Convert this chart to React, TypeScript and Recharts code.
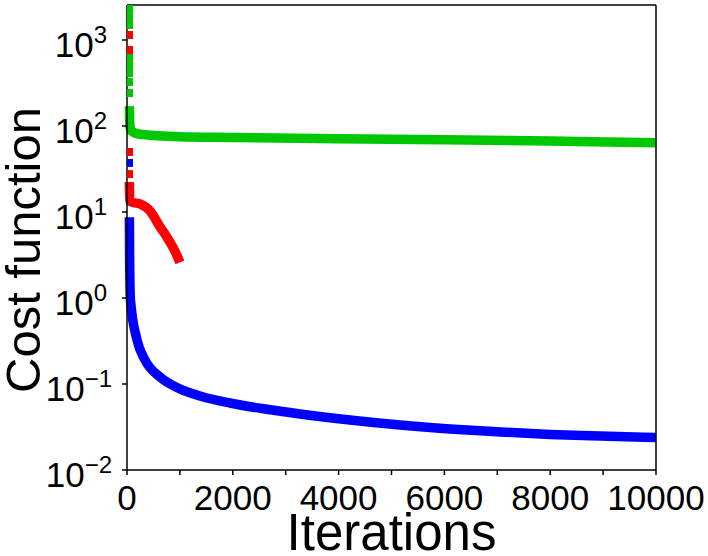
import {
	ComposedChart,
	Line,
	Scatter,
	XAxis,
	YAxis,
} from "recharts";

// iterations on x, cost on y (log)
const greenCurve = [
	{ it: 45, v: 170 },
	{ it: 55, v: 100 },
	{ it: 80, v: 88 },
	{ it: 250, v: 80 },
	{ it: 1000, v: 75 },
	{ it: 2000, v: 73.5 },
	{ it: 4000, v: 71 },
	{ it: 6000, v: 69.4 },
	{ it: 8000, v: 66.8 },
	{ it: 10000, v: 64 },
];
const greenEarly = [
	{ it: 57, v: 2292 },
	{ it: 57, v: 1849 },
	{ it: 57, v: 1493 },
	{ it: 57, v: 634 },
	{ it: 57, v: 512 },
	{ it: 57, v: 413 },
	{ it: 57, v: 325 },
	{ it: 57, v: 242 },
];
const blueCurve = [
	{ it: 45, v: 8.7 },
	{ it: 50, v: 2.8 },
	{ it: 65, v: 0.95 },
	{ it: 190, v: 0.325 },
	{ it: 340, v: 0.19 },
	{ it: 624, v: 0.1205 },
	{ it: 1002, v: 0.0875 },
	{ it: 1380, v: 0.0725 },
	{ it: 1947, v: 0.0601 },
	{ it: 2609, v: 0.0512 },
	{ it: 3270, v: 0.0448 },
	{ it: 4216, v: 0.0381 },
	{ it: 5161, v: 0.0333 },
	{ it: 6106, v: 0.03 },
	{ it: 7051, v: 0.0277 },
	{ it: 7996, v: 0.0259 },
	{ it: 8941, v: 0.0248 },
	{ it: 10000, v: 0.0239 },
];
const blueEarly = [{ it: 57, v: 37.2 }];
const redCurve = [
	{ it: 45, v: 22.3 },
	{ it: 50, v: 13.6 },
	{ it: 100, v: 13.0 },
	{ it: 246, v: 12.4 },
	{ it: 435, v: 10.3 },
	{ it: 624, v: 6.7 },
	{ it: 756, v: 5.1 },
	{ it: 907, v: 3.5 },
	{ it: 1000, v: 2.6 },
];
const redEarly = [
	{ it: 57, v: 1143 },
	{ it: 57, v: 765 },
	{ it: 57, v: 49.9 },
	{ it: 57, v: 27.6 },
];

const xTicks = [0, 1000, 2000, 3000, 4000, 5000, 6000, 7000, 8000, 9000, 10000];
const yTicks = [0.01, 0.1, 1, 10, 100, 1000];
const yDomain = [0.01, 2553];

const FONT = "'Liberation Sans', Arial, Helvetica, sans-serif";
const GREEN = "#00c800";
const BLUE = "#0000ff";
const RED = "#ff0000";
const LW = 9.5;

const XTick = ({ x, y, payload }: any) => {
	if (payload.value % 2000 !== 0) return <g />;
	return (
		<text x={x} y={y + 33} textAnchor="middle" fontSize={35} fontFamily={FONT} fill="#000">
			{payload.value}
		</text>
	);
};

const YTick = ({ x, y, payload }: any) => {
	const exp = Math.round(Math.log10(payload.value));
	const sup = exp < 0 ? "\u2212" + -exp : String(exp);
	return (
		<text
			x={exp < 0 ? x - 8 : x - 13}
			y={y + 17}
			textAnchor="end"
			fontSize={35}
			fontFamily={FONT}
			fill="#000"
		>
			10
			<tspan fontSize={24} dy={-14}>
				{sup}
			</tspan>
		</text>
	);
};

const marker = (color: string) => (props: any) =>
	<rect x={props.cx - 3} y={props.cy - 4} width={6} height={8} fill={color} />;

const App = () => {
	return (
		<div style={{ position: "absolute", left: 0, top: 0, background: "#fff" }}>
			<ComposedChart
				width={708}
				height={556}
				margin={{ top: 4, right: 51, left: 0, bottom: 0 }}
			>
				<XAxis
					xAxisId="bottom"
					dataKey="it"
					type="number"
					domain={[0, 10000]}
					ticks={xTicks}
					height={86}
					tick={<XTick />}
					tickSize={5}
					stroke="#000"
					strokeWidth={1.5}
					interval={0}
					label={{
						content: ({ viewBox }: any) => (
							<text
								x={viewBox.x + viewBox.width / 2}
								y={viewBox.y + 80}
								textAnchor="middle"
								fontSize={51}
								fontFamily={FONT}
								fill="#000"
							>
								Iterations
							</text>
						),
					}}
				/>
				<XAxis
					xAxisId="top"
					orientation="top"
					dataKey="it"
					type="number"
					domain={[0, 10000]}
					ticks={xTicks}
					height={1}
					tick={false}
					tickSize={5}
					stroke="#000"
					strokeWidth={1.5}
					interval={0}
				/>
				<YAxis
					yAxisId="left"
					type="number"
					scale="log"
					domain={yDomain}
					allowDataOverflow
					ticks={yTicks}
					width={127}
					tick={<YTick />}
					tickSize={5}
					stroke="#000"
					strokeWidth={1.5}
					interval={0}
					label={{
						content: ({ viewBox }: any) => (
							<text
								x={40}
								y={viewBox.y + 245}
								transform={`rotate(-90, 40, ${viewBox.y + 245})`}
								textAnchor="middle"
								fontSize={49}
								fontFamily={FONT}
								fill="#000"
							>
								Cost function
							</text>
						),
					}}
				/>
				<YAxis
					yAxisId="right"
					orientation="right"
					type="number"
					scale="log"
					domain={yDomain}
					allowDataOverflow
					ticks={yTicks}
					width={1}
					tick={false}
					tickSize={5}
					stroke="#000"
					strokeWidth={1.5}
					interval={0}
				/>
				<Line
					xAxisId="bottom"
					yAxisId="left"
					data={greenCurve}
					dataKey="v"
					type="monotone"
					stroke={GREEN}
					strokeWidth={LW}
					dot={false}
					isAnimationActive={false}
				/>
				<Scatter
					xAxisId="bottom"
					yAxisId="left"
					data={greenEarly}
					dataKey="v"
					shape={marker(GREEN)}
					isAnimationActive={false}
				/>
				<Line
					xAxisId="bottom"
					yAxisId="left"
					data={blueCurve}
					dataKey="v"
					type="monotone"
					stroke={BLUE}
					strokeWidth={LW}
					dot={false}
					isAnimationActive={false}
				/>
				<Scatter
					xAxisId="bottom"
					yAxisId="left"
					data={blueEarly}
					dataKey="v"
					shape={marker(BLUE)}
					isAnimationActive={false}
				/>
				<Line
					xAxisId="bottom"
					yAxisId="left"
					data={redCurve}
					dataKey="v"
					type="monotone"
					stroke={RED}
					strokeWidth={LW}
					dot={false}
					isAnimationActive={false}
				/>
				<Scatter
					xAxisId="bottom"
					yAxisId="left"
					data={redEarly}
					dataKey="v"
					shape={marker(RED)}
					isAnimationActive={false}
				/>
			</ComposedChart>
		</div>
	);
};

export default App;
